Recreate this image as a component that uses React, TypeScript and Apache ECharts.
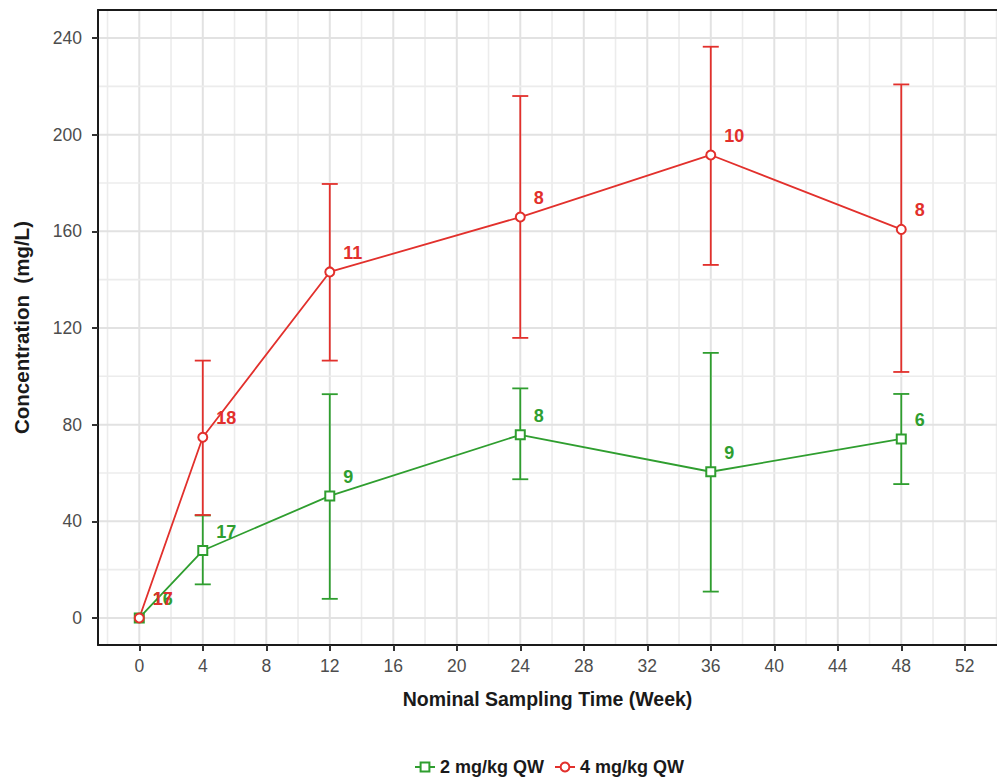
import React, { useEffect, useRef } from "react";
import * as echarts from "echarts";

const weeks = [0, 4, 12, 24, 36, 48];
const lowDoseMean = [0, 27.9, 50.5, 75.8, 60.5, 74.1];
const lowDoseLower = [0, 13.9, 7.9, 57.4, 10.9, 55.4];
const lowDoseUpper = [0, 42.4, 92.6, 95.0, 109.7, 92.7];
const lowDoseN = ["16", "17", "9", "8", "9", "6"];
const highDoseMean = [0, 74.8, 143.2, 165.9, 191.6, 160.8];
const highDoseLower = [0, 42.6, 106.5, 115.9, 146.1, 101.8];
const highDoseUpper = [0, 106.5, 179.6, 216.0, 236.4, 220.8];
const highDoseN = ["17", "18", "11", "8", "10", "8"];

const xTicks = [0, 4, 8, 12, 16, 20, 24, 28, 32, 36, 40, 44, 48, 52];
const xMinor = [-2, 2, 6, 10, 14, 18, 22, 26, 30, 34, 38, 42, 46, 50, 54];
const yTicks = [0, 40, 80, 120, 160, 200, 240];
const yMinor = [20, 60, 100, 140, 180, 220];

const seriesNames = ["2 mg/kg QW", "4 mg/kg QW"];
const GREEN = "#2f9e2f";
const RED = "#e2302c";
const FONT = "'Liberation Sans', Arial, sans-serif";

const X_MIN = -2.6;
const X_MAX = 54.03;
const Y_MIN = -11.2;
const Y_MAX = 251.6;

function errorBarSeries(color: string, lower: number[], upper: number[]) {
  return {
    type: "custom",
    silent: true,
    data: weeks.map((w, i) => [w, lower[i], upper[i]]),
    renderItem: (params: any, api: any) => {
      const x = api.value(0);
      const lo = api.value(1);
      const hi = api.value(2);
      if (hi - lo < 0.01) return { type: "group", children: [] };
      const pLo = api.coord([x, lo]);
      const pHi = api.coord([x, hi]);
      const w = 8;
      const style = { stroke: color, lineWidth: 1.8 };
      return {
        type: "group",
        children: [
          { type: "line", shape: { x1: pLo[0], y1: pLo[1], x2: pHi[0], y2: pHi[1] }, style },
          { type: "line", shape: { x1: pLo[0] - w, y1: pLo[1], x2: pLo[0] + w, y2: pLo[1] }, style },
          { type: "line", shape: { x1: pHi[0] - w, y1: pHi[1], x2: pHi[0] + w, y2: pHi[1] }, style },
        ],
      };
    },
  };
}

function lineSeries(name: string, color: string, symbol: string, mean: number[], ns: string[]) {
  return {
    type: "line",
    name,
    data: weeks.map((w, i) => [w, mean[i]]),
    symbol,
    symbolSize: 9,
    lineStyle: { color, width: 1.8 },
    itemStyle: { color, borderColor: color, borderWidth: 2 },
    label: {
      show: true,
      position: "right",
      distance: 5,
      offset: [3, -19],
      formatter: (p: any) => ns[p.dataIndex],
      color,
      fontFamily: FONT,
      fontWeight: "bold",
      fontSize: 18,
    },
  };
}

export default function App() {
  const ref = useRef<HTMLDivElement>(null);
  useEffect(() => {
    if (!ref.current) return;
    const chart = echarts.init(ref.current, null, { renderer: "svg" });
    const gridData: any[] = [];
    xTicks.forEach((v) => gridData.push([0, v, 0]));
    xMinor.forEach((v) => gridData.push([0, v, 1]));
    yTicks.forEach((v) => gridData.push([1, v, 0]));
    yMinor.forEach((v) => gridData.push([1, v, 1]));

    const option: any = {
      animation: false,
      backgroundColor: "#ffffff",
      textStyle: { fontFamily: FONT },
      grid: { left: 98, right: 0, top: 10, bottom: 138 },
      legend: {
        data: seriesNames,
        top: 756,
        left: 412,
        padding: 2,
        itemWidth: 20,
        itemHeight: 11,
        itemGap: 10,
        textStyle: { fontFamily: FONT, fontSize: 18, fontWeight: "bold", color: "#1a1a1a" },
      },
      xAxis: [
        {
          type: "value",
          min: X_MIN,
          max: X_MAX,
          name: "Nominal Sampling Time (Week)",
          nameLocation: "middle",
          nameGap: 44,
          nameTextStyle: { fontFamily: FONT, fontSize: 19.5, fontWeight: "bold", color: "#1a1a1a" },
          axisLine: { onZero: false, lineStyle: { color: "#1a1a1a", width: 2 } },
          axisTick: { customValues: xTicks, length: 6, lineStyle: { color: "#333333", width: 2 } },
          axisLabel: { customValues: xTicks, margin: 12, fontSize: 17.5, color: "#4d4d4d", fontFamily: FONT },
          splitLine: { show: false },
        },
        {
          type: "value",
          position: "top",
          min: X_MIN,
          max: X_MAX,
          axisLine: { show: true, onZero: false, lineStyle: { color: "#1a1a1a", width: 2 } },
          axisTick: { show: false },
          axisLabel: { show: false },
          splitLine: { show: false },
        },
      ],
      yAxis: {
        type: "value",
        min: Y_MIN,
        max: Y_MAX,
        name: "Concentration  (mg/L)",
        nameLocation: "middle",
        nameGap: 66,
        nameTextStyle: { fontFamily: FONT, fontSize: 20.5, fontWeight: "bold", color: "#1a1a1a" },
        axisLine: { show: true, onZero: false, lineStyle: { color: "#1a1a1a", width: 2 } },
        axisTick: { show: true, customValues: yTicks, length: 6, lineStyle: { color: "#333333", width: 2 } },
        axisLabel: { customValues: yTicks, margin: 16, fontSize: 17.5, color: "#4d4d4d", fontFamily: FONT },
        splitLine: { show: false },
      },
      series: [
        {
          type: "custom",
          silent: true,
          z: 0,
          data: gridData,
          renderItem: (params: any, api: any) => {
            const kind = api.value(0);
            const v = api.value(1);
            const minor = api.value(2);
            const cs = params.coordSys;
            const style = { stroke: minor ? "#ececec" : "#e2e2e2", lineWidth: minor ? 1.6 : 2 };
            if (kind === 0) {
              const px = api.coord([v, 0])[0];
              return { type: "line", shape: { x1: px, y1: cs.y, x2: px, y2: cs.y + cs.height }, style };
            }
            const py = api.coord([0, v])[1];
            return { type: "line", shape: { x1: cs.x, y1: py, x2: cs.x + cs.width, y2: py }, style };
          },
        },
        errorBarSeries(GREEN, lowDoseLower, lowDoseUpper),
        lineSeries(seriesNames[0], GREEN, "emptyRect", lowDoseMean, lowDoseN),
        errorBarSeries(RED, highDoseLower, highDoseUpper),
        lineSeries(seriesNames[1], RED, "emptyCircle", highDoseMean, highDoseN),
      ],
    };
    chart.setOption(option);
    return () => chart.dispose();
  }, []);
  return (
    <div
      ref={ref}
      style={{ position: "absolute", left: 0, top: 0, width: 997, height: 783 }}
    />
  );
}
